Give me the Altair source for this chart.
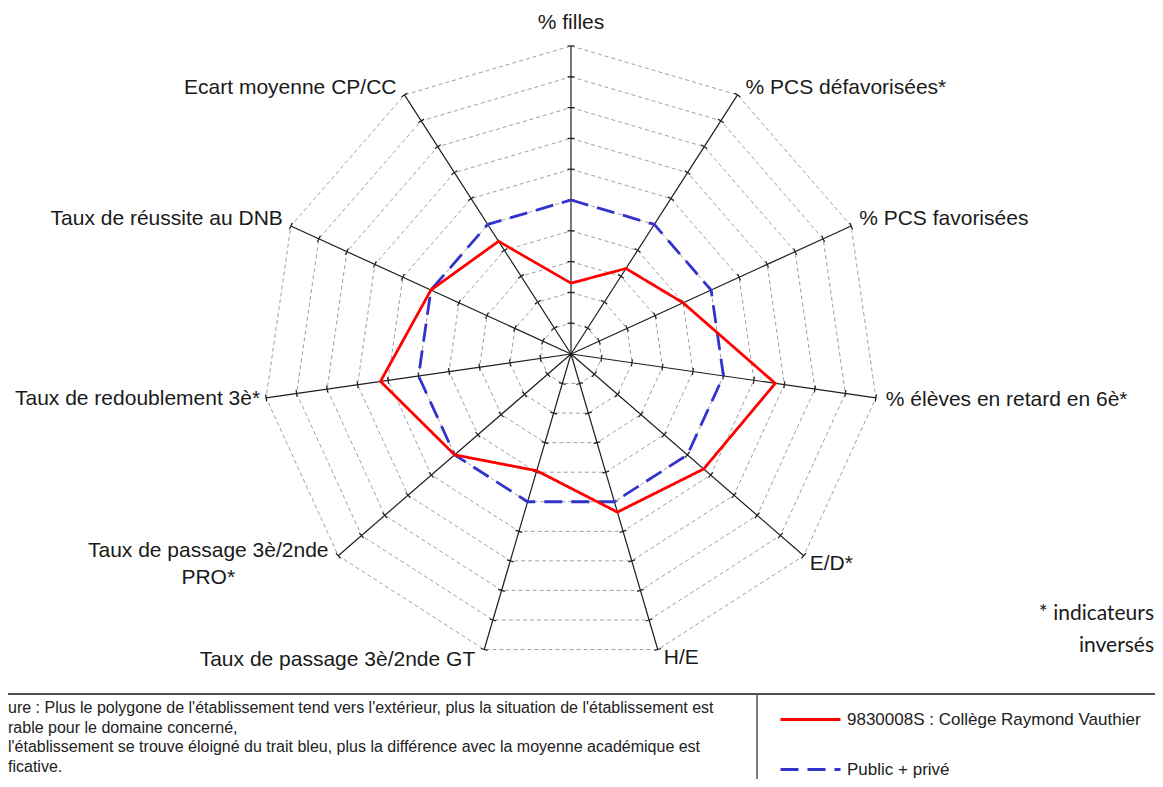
import math
import altair as alt
import pandas as pd

# ---------------- data ----------------
categories = [
    "% filles",
    "% PCS défavorisées*",
    "% PCS favorisées",
    "% élèves en retard en 6è*",
    "E/D*",
    "H/E",
    "Taux de passage 3è/2nde GT",
    "Taux de passage 3è/2nde\nPRO*",
    "Taux de redoublement 3è*",
    "Taux de réussite au DNB",
    "Ecart moyenne CP/CC",
]
college = [2.3, 3.3, 4.0, 6.7, 5.7, 5.35, 3.95, 5.0, 6.25, 5.0, 4.35]
academie = [5.0, 5.0, 5.0, 5.0, 5.0, 5.0, 5.0, 5.0, 5.0, 5.0, 5.0]
series_names = ["9830008S : Collège Raymond Vauthier", "Public + privé"]
ring_levels = [1, 2, 3, 4, 5, 6, 7, 8, 9, 10]
# the reference shows this note cut at its left edge; only the visible part is kept
footnote_lines = [
    "ure : Plus le polygone de l'établissement tend vers l'extérieur, plus la situation de l'établissement est",
    "rable pour le domaine concerné,",
    "l'établissement se trouve éloigné du trait bleu, plus la différence avec la moyenne académique est",
    "ficative.",
]
note_lines = ["* indicateurs", "inversés"]

# ---------------- layout ----------------
N = len(categories)
RMAX = ring_levels[-1]
W, H = 1147, 771          # svg size (page has an 8px margin)
OX, OY = 8, 8
CX, CY = 571, 354         # page position of the radar centre
U = 30.8                  # pixels per ring unit
TICK = 3.5 / U
FONT = "Liberation Sans"

xscale = alt.Scale(domain=[-(CX - OX) / U, (OX + W - CX) / U], nice=False, zero=False)
yscale = alt.Scale(domain=[-(OY + H - CY) / U, (CY - OY) / U], nice=False, zero=False)
X = lambda f: alt.X(f, type="quantitative", scale=xscale, axis=None)
Y = lambda f: alt.Y(f, type="quantitative", scale=yscale, axis=None)
ANG = "2*PI*datum.idx/%d" % N

# ---------------- tables ----------------
series_rows = []
for name, vals in zip(series_names, [college, academie]):
    for k in range(N + 1):
        series_rows.append({"series": name, "k": k, "idx": k % N, "value": vals[k % N]})
series_df = pd.DataFrame(series_rows)

ring_df = pd.DataFrame([{"ring": r, "k": k, "idx": k % N} for r in ring_levels for k in range(N + 1)])
axis_df = pd.DataFrame([{"idx": i} for i in range(N)])
tick_df = pd.DataFrame([{"idx": i, "r": r} for i in range(N) for r in ring_levels])

lab_rows = []
for i, lab in enumerate(categories):
    a = 2 * math.pi * i / N
    s, c = math.sin(a), math.cos(a)
    align = "left" if s > 0.05 else ("right" if s < -0.05 else "center")
    base = "alphabetic" if c > 0.3 else ("middle" if c > -0.3 else "top")
    grp = "multi" if "\n" in lab else align + "_" + base
    lab_rows.append({"idx": i, "label": lab, "grp": grp})
label_df = pd.DataFrame(lab_rows)

# ---------------- layers ----------------
rings = alt.Chart(ring_df).transform_calculate(
    x="datum.ring*sin(%s)" % ANG, y="datum.ring*cos(%s)" % ANG
).mark_line(stroke="#a0a0a0", strokeWidth=1, strokeDash=[4, 3]).encode(
    x=X("x"), y=Y("y"), detail="ring:N", order="k:Q"
)

axes = alt.Chart(axis_df).transform_calculate(
    x0="0", y0="0", x1="%d*sin(%s)" % (RMAX, ANG), y1="%d*cos(%s)" % (RMAX, ANG)
).mark_rule(color="#1e1e1e", strokeWidth=1.2).encode(
    x=X("x0"), y=Y("y0"), x2="x1:Q", y2="y1:Q"
)

ticks = alt.Chart(tick_df).transform_calculate(
    xa="datum.r*sin(%s)+%f*cos(%s)" % (ANG, TICK, ANG),
    ya="datum.r*cos(%s)-%f*sin(%s)" % (ANG, TICK, ANG),
    xb="datum.r*sin(%s)-%f*cos(%s)" % (ANG, TICK, ANG),
    yb="datum.r*cos(%s)+%f*sin(%s)" % (ANG, TICK, ANG),
).mark_rule(color="#1e1e1e", strokeWidth=1.2).encode(
    x=X("xa"), y=Y("ya"), x2="xb:Q", y2="yb:Q"
)

leg = alt.Legend(
    title=None, orient="none", legendX=779 - OX, legendY=688 - OY,
    symbolType="stroke", symbolSize=3600, symbolStrokeWidth=3,
    labelFont=FONT, labelFontSize=17, labelColor="#222222", labelOffset=5,
    rowPadding=10, padding=0, labelLimit=0,
)
color = alt.Color("series:N", scale=alt.Scale(domain=series_names, range=["#ff0000", "#3333cc"]), legend=leg)
dash = alt.StrokeDash("series:N", scale=alt.Scale(domain=series_names, range=[[1, 0], [18, 9]]), legend=leg)


def series_layer(name):
    return alt.Chart(series_df).transform_filter(
        alt.datum.series == name
    ).transform_calculate(
        x="datum.value*sin(%s)" % ANG, y="datum.value*cos(%s)" % ANG
    ).mark_line(strokeWidth=2.8).encode(
        x=X("x"), y=Y("y"), order="k:Q", color=color, strokeDash=dash
    )


label_style = {
    "center_alphabetic": dict(align="center", baseline="alphabetic", dx=0, dy=-17),
    "left_alphabetic": dict(align="left", baseline="alphabetic", dx=8, dy=-1),
    "left_middle": dict(align="left", baseline="middle", dx=10, dy=2),
    "left_top": dict(align="left", baseline="top", dx=6, dy=-3),
    "right_top": dict(align="right", baseline="top", dx=-9, dy=-1),
    "right_middle": dict(align="right", baseline="middle", dx=-6, dy=1),
    "right_alphabetic": dict(align="right", baseline="alphabetic", dx=-8, dy=-1),
    "multi": dict(align="center", baseline="middle", dx=-130, dy=-5),
}
label_layers = []
for g, st in label_style.items():
    label_layers.append(
        alt.Chart(label_df).transform_filter(alt.datum.grp == g).transform_calculate(
            x="%d*sin(%s)" % (RMAX, ANG), y="%d*cos(%s)" % (RMAX, ANG)
        ).mark_text(font=FONT, fontSize=21, color="#1a1a1a", lineBreak="\n", lineHeight=27, **st).encode(
            x=X("x"), y=Y("y"), text="label:N"
        )
    )

one = alt.Data(values=[{"a": 1}])
note = alt.Chart(one).mark_text(
    align="right", baseline="alphabetic", font="Lato", fontSize=21, lineHeight=32, color="#1a1a1a"
).encode(x=alt.value(W - 1), y=alt.value(620 - OY), text=alt.value(note_lines))

foot = alt.Chart(one).mark_text(
    align="left", baseline="middle", font=FONT, fontSize=16, lineHeight=19.5, color="#222222"
).encode(x=alt.value(0), y=alt.value(708 - OY), text=alt.value(footnote_lines))

hline = alt.Chart(one).mark_rule(color="#505050", strokeWidth=2).encode(
    x=alt.value(0), x2=alt.value(W), y=alt.value(694 - OY)
)
vline = alt.Chart(one).mark_rule(color="#505050", strokeWidth=1.5).encode(
    x=alt.value(757 - OX), y=alt.value(694 - OY), y2=alt.value(H)
)

chart = alt.layer(
    rings, axes, ticks, series_layer(series_names[1]), series_layer(series_names[0]),
    *label_layers, note, foot, hline, vline
).properties(
    width=W, height=H, padding=0, autosize=alt.AutoSizeParams(type="none"), background="white"
).configure_view(stroke=None)

chart.save("out.html", embed_options={"renderer": "svg", "actions": False})
